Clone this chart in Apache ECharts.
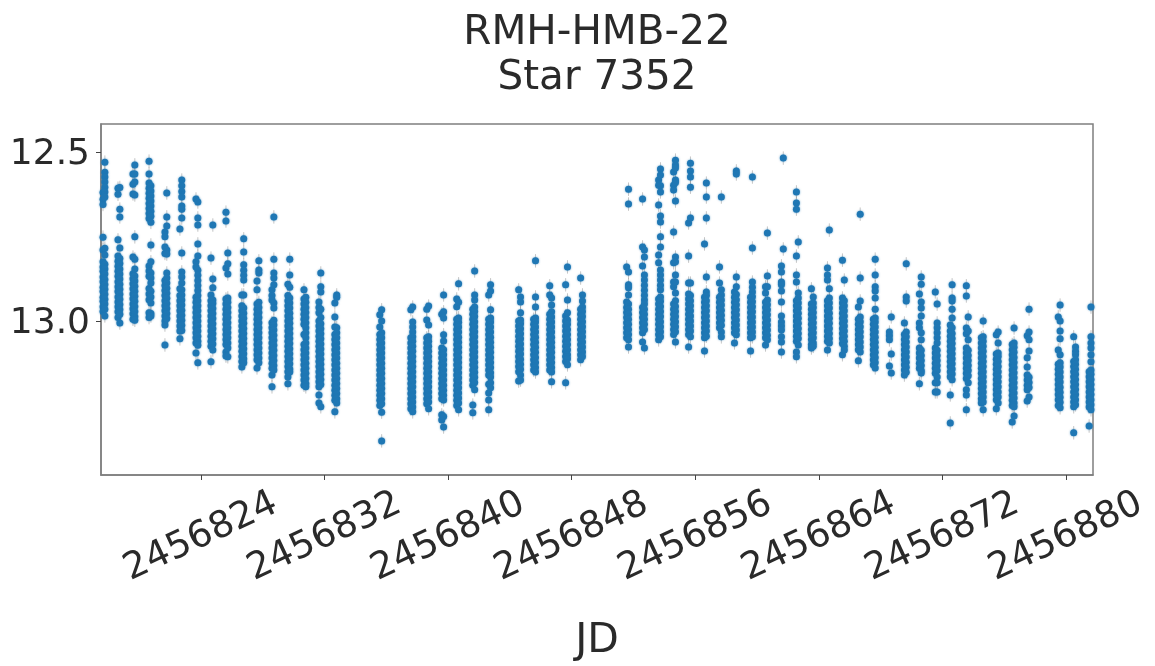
<!DOCTYPE html>
<html>
<head>
<meta charset="utf-8">
<title>RMH-HMB-22 Star 7352</title>
<script src="https://cdn.jsdelivr.net/npm/echarts@6/dist/echarts.min.js"></script>
<style>
  html, body { margin: 0; background: #fff; }
  #chart { width: 1155px; height: 666px; }
</style>
</head>
<body>
<div id="chart"></div>
<script>
// JD minus 2456800, one entry per night, early and late part of the night
const jdBase = 2456800;
const earlyDays = [17.66,18.63,19.60,20.64,21.67,22.64,23.68,24.65,25.62,26.65,27.63,28.60,29.63,30.67,31.64,32.67,35.58,37.59,38.62,39.59,40.56,41.60,42.63,44.57,45.54,46.58,47.61,48.58,51.56,52.59,53.63,54.60,55.57,56.60,57.57,58.54,59.58,60.55,61.58,62.55,63.52,64.56,65.53,66.56,67.53,68.57,69.54,70.51,71.54,72.51,73.55,74.52,75.49,76.52,77.49,79.50,80.50,81.50];
const lateDays = [17.78,18.75,19.72,20.76,21.79,22.76,23.80,24.77,25.74,26.77,27.75,28.72,29.75,30.79,31.76,32.79,35.70,37.71,38.74,39.71,40.68,41.72,42.75,44.69,45.66,46.70,47.73,48.70,51.68,52.71,53.75,54.72,55.69,56.72,57.69,58.66,59.70,60.67,61.70,62.67,63.64,64.68,65.65,66.68,67.65,68.69,69.66,70.63,71.66,72.63,73.67,74.64,75.61,76.64,77.61,79.62,80.62,81.62];

// magnitudes
const earlyMags = [
  [12.62,12.64,12.655,12.752,12.79,12.825,12.84,12.853,12.87,12.884,12.9,12.913,12.93,12.942,12.958,12.972],
  [12.607,12.625,12.76,12.808,12.823,12.838,12.853,12.868,12.884,12.899,12.913,12.929,12.944,12.958,12.973,12.99],
  [12.565,12.595,12.624,12.811,12.86,12.875,12.89,12.905,12.92,12.934,12.95,12.964,12.979,12.995],
  [12.527,12.565,12.592,12.607,12.622,12.637,12.652,12.667,12.682,12.697,12.837,12.852,12.868,12.904,12.92,12.937,12.976,12.99],
  [12.737,12.751,12.781,12.8,12.88,12.895,12.91,12.925,12.94,12.955,12.97,12.985,13.0,13.012,13.071],
  [12.728,12.905,12.925,12.94,12.955,12.97,12.985,13.0,13.015,13.03,13.053],
  [12.639,12.825,12.84,12.93,12.945,12.96,12.975,12.99,13.005,13.02,13.035,13.05,13.065,13.095],
  [12.814,12.923,12.94,12.955,12.97,12.985,13.0,13.015,13.03,13.045,13.06,13.075,13.121],
  [12.678,12.704,12.843,12.935,12.95,12.965,12.98,12.995,13.01,13.025,13.04,13.055,13.07,13.092,13.104],
  [12.923,12.955,12.97,12.985,13.0,13.015,13.03,13.045,13.06,13.075,13.09,13.105,13.12,13.136],
  [12.882,12.908,12.95,12.965,12.98,12.995,13.01,13.025,13.04,13.055,13.07,13.085,13.1,13.115,13.139],
  [12.908,12.925,12.938,13.005,13.02,13.035,13.05,13.065,13.08,13.095,13.11,13.125,13.14,13.16,13.195],
  [12.891,12.925,12.94,12.955,12.97,12.985,13.0,13.015,13.03,13.045,13.06,13.075,13.09,13.105,13.12,13.135,13.15,13.166,13.186],
  [12.908,12.935,12.95,12.965,12.98,12.995,13.01,13.04,13.07,13.085,13.1,13.115,13.13,13.145,13.16,13.175,13.19],
  [12.944,12.96,12.976,13.0,13.015,13.03,13.045,13.06,13.075,13.09,13.105,13.12,13.135,13.15,13.165,13.18,13.195,13.219,13.243],
  [12.947,12.988,13.018,13.04,13.055,13.07,13.085,13.1,13.115,13.13,13.145,13.16,13.175,13.19,13.205,13.22,13.235,13.269],
  [12.982,13.018,13.04,13.055,13.07,13.085,13.1,13.115,13.13,13.145,13.16,13.175,13.19,13.205,13.22,13.235,13.25],
  [12.967,13.05,13.065,13.08,13.095,13.11,13.125,13.14,13.155,13.17,13.185,13.2,13.215,13.23,13.245,13.26],
  [12.965,12.997,13.05,13.065,13.08,13.095,13.11,13.125,13.14,13.155,13.17,13.185,13.2,13.215,13.23,13.245],
  [12.98,13.08,13.095,13.11,13.125,13.14,13.155,13.17,13.185,13.2,13.215,13.23,13.278,13.293],
  [12.935,12.958,12.995,13.01,13.025,13.04,13.055,13.07,13.085,13.1,13.115,13.13,13.145,13.16,13.175,13.19,13.205,13.22,13.235,13.25],
  [12.965,12.98,12.995,13.01,13.025,13.04,13.055,13.07,13.085,13.1,13.115,13.13,13.145,13.16,13.175,13.19,13.249,13.272],
  [12.923,12.995,13.01,13.025,13.04,13.055,13.07,13.085,13.1,13.115,13.13,13.145,13.16,13.187,13.213,13.234,13.263],
  [12.908,13.0,13.015,13.03,13.045,13.06,13.075,13.09,13.105,13.12,13.135,13.15,13.178],
  [12.995,13.01,13.025,13.04,13.055,13.07,13.085,13.1,13.115,13.13,13.145],
  [12.896,12.923,12.98,12.995,13.01,13.025,13.04,13.055,13.07,13.085,13.1,13.115,13.13,13.145],
  [12.893,12.985,13.0,13.015,13.03,13.045,13.06,13.075,13.09,13.105,13.12,13.183],
  [12.873,12.965,12.98,12.995,13.01,13.025,13.04,13.055,13.07,13.085,13.1,13.115],
  [12.84,12.944,12.96,12.975,12.99,13.005,13.02,13.035,13.05],
  [12.639,12.781,12.837,12.96,12.975,12.99,13.005,13.02,13.035,13.062],
  [12.583,12.598,12.657,12.805,12.828,12.935,12.95,12.965,12.98,12.995,13.01,13.025,13.04,13.056],
  [12.559,12.598,12.612,12.737,12.828,12.885,12.899,12.95,12.965,12.98,12.995,13.01,13.025,13.04],
  [12.71,12.808,12.888,12.92,12.935,12.95,12.965,12.98,12.995,13.01,13.025,13.04,13.077],
  [12.772,12.93,12.945,12.96,12.975,12.99,13.005,13.02,13.035,13.05,13.089],
  [12.84,12.888,12.93,12.945,12.96,12.975,12.99,13.005,13.02],
  [12.914,12.93,12.945,12.96,12.975,12.99,13.005,13.02,13.035,13.065],
  [12.93,12.945,12.96,12.975,12.99,13.005,13.02,13.035,13.05,13.089],
  [12.899,12.917,12.945,12.96,12.975,12.99,13.005,13.02,13.035,13.05,13.071],
  [12.837,12.855,12.885,12.893,12.911,12.944,12.985,13.003,13.015,13.027,13.047,13.062,13.092],
  [12.618,12.651,12.669,12.808,12.864,12.885,12.94,12.955,12.97,12.985,13.0,13.015,13.03,13.045,13.06,13.092,13.106],
  [12.905,12.95,12.965,12.98,12.995,13.01,13.025,13.04,13.055,13.07,13.08],
  [12.843,12.864,12.879,12.94,12.955,12.97,12.985,13.0,13.015,13.03,13.045,13.06,13.086],
  [12.82,12.932,12.947,12.962,12.977,12.992,13.007,13.022,13.037,13.052,13.067,13.1],
  [12.959,12.995,13.01,13.025,13.04,13.055,13.07,13.085,13.118],
  [12.995,13.01,13.025,13.04,13.055,13.07,13.085,13.1,13.115,13.13],
  [13.033,13.044,13.056,13.133],
  [13.006,13.04,13.055,13.07,13.085,13.1,13.115,13.13,13.145,13.16],
  [12.92,13.006,13.02,13.08,13.095,13.11,13.125,13.14,13.186],
  [12.914,13.08,13.095,13.11,13.125,13.14,13.155,13.183,13.21],
  [13.012,13.03,13.045,13.06,13.075,13.09,13.105,13.12,13.135,13.15,13.165,13.219,13.302],
  [12.896,12.926,13.021,13.038,13.08,13.095,13.11,13.125,13.14,13.155,13.17,13.204,13.219,13.263],
  [13.05,13.065,13.08,13.095,13.11,13.125,13.14,13.155,13.17,13.185,13.2,13.215,13.23,13.243],
  [13.041,13.098,13.113,13.128,13.143,13.158,13.173,13.188,13.203,13.218,13.233,13.26],
  [13.07,13.085,13.1,13.115,13.13,13.145,13.16,13.175,13.19,13.205,13.22,13.235,13.25,13.299],
  [13.044,13.109,13.136,13.16,13.175,13.19,13.204,13.237],
  [12.988,13.086,13.128,13.143,13.158,13.173,13.188,13.203,13.218,13.233,13.25],
  [13.047,13.12,13.135,13.15,13.165,13.18,13.195,13.21,13.225,13.24,13.254,13.331],
  [13.15,13.165,13.18,13.195,13.21,13.225,13.24,13.255,13.311]
];
const lateMags = [
  [12.53,12.56,12.574,12.589,12.604,12.618,12.633,12.785,12.805,12.832,12.846,12.861,12.877,12.892,12.906,12.921,12.936,12.95,12.965,12.985],
  [12.605,12.669,12.692,12.784,12.815,12.83,12.846,12.861,12.876,12.891,12.906,12.921,12.936,12.951,12.966,12.98,13.006],
  [12.538,12.565,12.589,12.627,12.751,12.817,12.846,12.867,12.882,12.897,12.912,12.927,12.942,12.957,12.972,12.987,12.998],
  [12.6,12.615,12.63,12.645,12.66,12.675,12.69,12.708,12.775,12.825,12.858,12.873,12.888,12.912,12.929,12.947,12.978,12.985],
  [12.621,12.692,12.719,12.79,12.802,12.858,12.873,12.888,12.903,12.918,12.933,12.948,12.963,12.978,12.993],
  [12.583,12.6,12.617,12.633,12.66,12.669,12.695,12.799,12.855,12.87,12.888,12.908,12.923,12.938,12.953,12.968,12.983,12.998,13.013,13.028],
  [12.648,12.695,12.716,12.772,12.808,12.85,12.865,12.88,12.895,12.91,12.925,12.94,12.955,12.97,12.985,13.0,13.015,13.03,13.045,13.06,13.072,13.124],
  [12.716,12.876,12.902,12.938,12.948,12.963,12.978,12.993,13.008,13.023,13.038,13.053,13.068,13.086],
  [12.799,12.831,12.861,12.932,12.945,12.96,12.975,12.99,13.005,13.02,13.035,13.05,13.065,13.08,13.106],
  [12.757,12.796,12.834,12.85,12.865,12.879,12.923,12.962,12.977,12.992,13.007,13.022,13.037,13.052,13.067,13.082,13.097,13.112,13.124],
  [12.822,12.849,12.858,12.945,12.96,12.975,12.99,13.005,13.02,13.035,13.05,13.065,13.08,13.095,13.11,13.124],
  [12.692,12.817,12.858,12.873,12.893,12.947,12.962,12.998,13.012,13.027,13.042,13.057,13.072,13.087,13.102,13.117,13.132,13.145],
  [12.817,12.864,12.9,12.932,12.947,12.962,12.977,12.992,13.007,13.022,13.037,13.052,13.067,13.082,13.097,13.112,13.127,13.142,13.151],
  [12.93,12.945,12.96,12.975,12.99,13.005,13.02,13.035,13.05,13.065,13.08,13.095,13.11,13.125,13.14,13.155,13.17,13.185,13.195],
  [12.858,12.899,12.914,12.965,12.99,13.008,13.023,13.038,13.053,13.068,13.083,13.098,13.113,13.128,13.143,13.158,13.173,13.188,13.254],
  [12.923,12.93,13.02,13.035,13.05,13.065,13.08,13.095,13.11,13.125,13.14,13.155,13.17,13.185,13.2,13.215,13.23,13.243],
  [12.967,13.0,13.035,13.05,13.065,13.08,13.095,13.11,13.125,13.14,13.155,13.17,13.185,13.2,13.215,13.23,13.245,13.27,13.355],
  [12.959,13.003,13.018,13.033,13.047,13.06,13.075,13.09,13.105,13.12,13.135,13.15,13.165,13.18,13.195,13.21,13.225,13.24,13.255,13.269],
  [12.956,13.012,13.047,13.06,13.075,13.09,13.105,13.12,13.135,13.15,13.165,13.18,13.195,13.21,13.225,13.24,13.26],
  [12.923,12.973,12.991,13.041,13.059,13.085,13.1,13.115,13.13,13.145,13.16,13.175,13.19,13.205,13.22,13.234,13.283,13.314],
  [12.89,12.945,12.991,13.004,13.018,13.033,13.048,13.063,13.078,13.093,13.108,13.123,13.138,13.153,13.168,13.183,13.198,13.213,13.228,13.243,13.263],
  [12.852,12.923,12.938,12.959,12.972,12.987,13.002,13.017,13.032,13.047,13.062,13.077,13.092,13.107,13.122,13.137,13.152,13.167,13.182,13.204],
  [12.893,12.911,12.967,12.991,13.003,13.018,13.033,13.048,13.063,13.078,13.093,13.108,13.123,13.138,13.153,13.166,13.183,13.198],
  [12.929,12.944,12.976,12.997,13.008,13.023,13.038,13.053,13.068,13.083,13.098,13.113,13.128,13.143,13.16,13.175],
  [12.822,12.929,12.959,12.991,13.003,13.018,13.033,13.048,13.063,13.078,13.093,13.108,13.123,13.138,13.151],
  [12.932,12.953,12.973,12.988,13.003,13.018,13.033,13.048,13.063,13.078,13.093,13.108,13.123,13.138,13.151,13.18],
  [12.84,12.938,12.976,12.997,13.01,13.025,13.04,13.055,13.07,13.085,13.1,13.112,13.13],
  [12.923,12.941,12.959,12.972,12.987,13.002,13.017,13.032,13.047,13.062,13.077,13.092,13.105],
  [12.61,12.654,12.855,12.893,12.902,12.923,12.95,12.965,12.98,12.995,13.01,13.025,13.04,13.056,13.077],
  [12.79,12.811,12.864,12.879,12.894,12.909,12.924,12.938,12.95,12.965,12.98,12.995,13.01,13.025,13.08],
  [12.55,12.568,12.6,12.618,12.689,12.707,12.751,12.781,12.849,12.864,12.879,12.894,12.908,12.929,12.942,12.957,12.972,12.987,13.002,13.017,13.032,13.047],
  [12.524,12.538,12.547,12.583,12.59,12.645,12.811,12.825,12.864,12.885,12.917,12.94,12.957,12.972,12.987,13.002,13.017,13.032,13.062],
  [12.533,12.556,12.574,12.604,12.695,12.888,12.925,12.94,12.955,12.97,12.985,13.0,13.015,13.03,13.047],
  [12.592,12.633,12.695,12.87,12.914,12.925,12.94,12.955,12.97,12.985,13.0,13.015,13.03,13.045],
  [12.633,12.908,12.923,12.938,12.953,12.968,12.983,12.998,13.013,13.033,13.047],
  [12.556,12.565,12.87,12.899,12.922,12.937,12.952,12.967,12.982,12.997,13.012,13.027,13.041],
  [12.574,12.784,12.885,12.9,12.914,12.928,12.943,12.958,12.973,12.988,13.003,13.018,13.033,13.047],
  [12.74,12.867,12.899,12.938,12.952,12.967,12.982,12.997,13.012,13.027,13.042,13.056],
  [12.518,12.787],
  [12.766,12.917,12.932,12.947,12.962,12.977,12.992,13.007,13.022,13.037,13.052,13.071],
  [12.929,12.947,12.96,12.975,12.99,13.005,13.02,13.035,13.05,13.065,13.075],
  [12.731,12.905,12.932,12.947,12.962,12.977,12.992,13.007,13.022,13.037,13.052,13.065],
  [12.879,12.94,12.955,12.97,12.985,13.0,13.015,13.03,13.045,13.06,13.075,13.086],
  [12.684,12.873,12.941,12.988,13.002,13.017,13.032,13.047,13.062,13.077,13.092],
  [12.817,12.864,12.899,12.911,12.932,12.965,12.991,13.003,13.018,13.033,13.048,13.063,13.078,13.093,13.108,13.123,13.139],
  [12.988,13.098,13.154],
  [12.831,12.929,12.941,13.033,13.047,13.062,13.077,13.092,13.107,13.122,13.137,13.152],
  [12.87,12.891,12.944,12.962,12.985,13.035,13.056,13.087,13.102,13.117,13.132,13.147,13.154],
  [12.95,13.006,13.02,13.035,13.05,13.065,13.087,13.102,13.117,13.132,13.147,13.166,13.183,13.21],
  [12.893,12.932,12.941,12.965,12.991,13.02,13.037,13.052,13.067,13.082,13.097,13.112,13.127,13.142,13.157,13.174],
  [12.988,13.03,13.056,13.087,13.102,13.117,13.132,13.147,13.162,13.183],
  [13.0,13.047,13.06,13.075,13.09,13.105,13.12,13.135,13.15,13.165,13.18,13.195,13.21,13.225,13.24,13.263],
  [13.033,13.065,13.095,13.105,13.12,13.135,13.15,13.165,13.18,13.195,13.21,13.225,13.243],
  [13.021,13.065,13.078,13.093,13.108,13.123,13.138,13.153,13.168,13.183,13.198,13.213,13.228,13.243,13.254,13.281],
  [12.965,13.033,13.056,13.089,13.167,13.182,13.197,13.225],
  [12.953,13.0,13.03,13.053,13.1,13.124,13.136,13.151,13.166,13.181,13.196,13.211,13.226,13.241,13.257],
  [13.077,13.09,13.1,13.115,13.128,13.143,13.158,13.173,13.188,13.203,13.218,13.233,13.248],
  [12.959,13.047,13.065,13.08,13.1,13.121,13.145,13.158,13.173,13.188,13.203,13.218,13.233,13.248,13.263]
];
const magErr = 0.02;

const xTicks = [2456824, 2456832, 2456840, 2456848, 2456856, 2456864, 2456872, 2456880];
const yTicks = [12.5, 13.0];

const textColor = '#2a2a2a';
const fontFamily = 'DejaVu Sans';

function buildPoints() {
  const points = [];
  for (var i = 0; i < earlyDays.length; i++) {
    earlyMags[i].forEach(m => points.push([jdBase + earlyDays[i], m]));
    lateMags[i].forEach(m => points.push([jdBase + lateDays[i], m]));
  }
  return points;
}

const points = buildPoints();
const chart = echarts.init(document.getElementById('chart'));

const spine = { show: true, lineStyle: { color: '#7f7f7f', width: 1.5 } };

chart.setOption({
  animation: false,
  title: {
    text: 'RMH-HMB-22\nStar 7352',
    left: 592,
    top: 6,
    textAlign: 'center',
    textStyle: {
      color: textColor,
      fontFamily: fontFamily,
      fontSize: 40.5,
      fontWeight: 'normal',
      lineHeight: 45
    }
  },
  grid: { left: 101, right: 62, top: 124, bottom: 191, outerBoundsMode: 'none', show: true, borderColor: '#7f7f7f', borderWidth: 1.5, backgroundColor: '#fff' },
  xAxis: {
    type: 'value',
    min: 2456817.53,
    max: 2456881.75,
    name: 'JD',
    nameLocation: 'middle',
    nameGap: 166,
    nameTextStyle: { color: textColor, fontFamily: fontFamily, fontSize: 41, verticalAlign: 'middle' },
    splitLine: { show: false },
    axisLine: spine,
    axisTick: { show: true, customValues: xTicks, length: 5, lineStyle: { color: '#444', width: 1 } },
    axisLabel: {
      customValues: xTicks,
      rotate: 25,
      align: 'center',
      verticalAlign: 'middle',
      margin: 62,
      color: textColor,
      fontFamily: fontFamily,
      fontSize: 37,
      formatter: v => String(v)
    }
  },
  yAxis: {
    type: 'value',
    inverse: true,
    min: 12.417,
    max: 13.456,
    splitLine: { show: false },
    axisLine: spine,
    axisTick: { show: true, customValues: yTicks, length: 5, lineStyle: { color: '#444', width: 1 } },
    axisLabel: {
      customValues: yTicks,
      margin: 11,
      verticalAlign: 'top',
      lineHeight: 6,
      color: textColor,
      fontFamily: fontFamily,
      fontSize: 36,
      formatter: v => v.toFixed(1)
    }
  },
  series: [
    {
      name: 'error',
      type: 'custom',
      silent: true,
      clip: true,
      z: 1,
      data: points,
      renderItem: function (params, api) {
        const top = api.coord([api.value(0), api.value(1) - magErr]);
        const bottom = api.coord([api.value(0), api.value(1) + magErr]);
        return {
          type: 'line',
          shape: { x1: top[0], y1: top[1], x2: bottom[0], y2: bottom[1] },
          style: { stroke: 'rgba(130,130,130,0.45)', lineWidth: 1 }
        };
      }
    },
    {
      name: 'mag',
      type: 'scatter',
      silent: true,
      z: 2,
      symbol: 'circle',
      symbolSize: 7,
      itemStyle: { color: '#1f77b4', opacity: 1, shadowBlur: 2, shadowColor: 'rgba(31,119,180,0.7)' },
      data: points
    }
  ]
});
</script>
</body>
</html>
